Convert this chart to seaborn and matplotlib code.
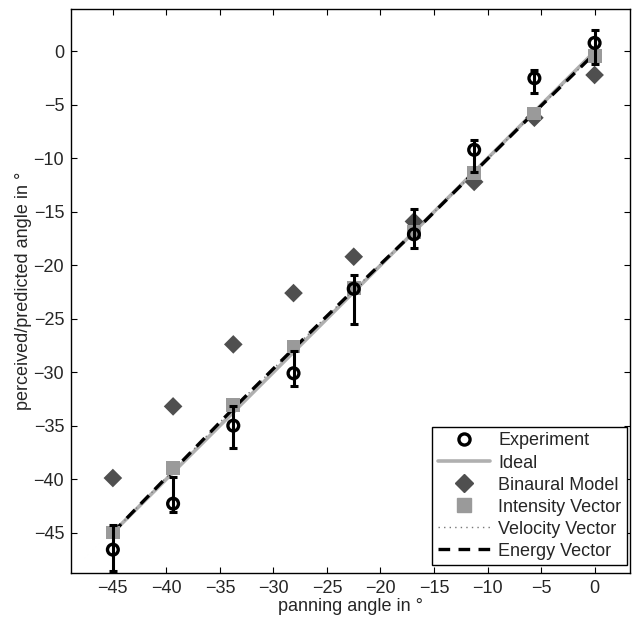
#!/usr/bin/env python3
import numpy as np
import pandas as pd
import seaborn as sns
import matplotlib.pyplot as plt
from matplotlib.lines import Line2D

# === Data ===
panning = [-45.0, -39.375, -33.75, -28.125, -22.5, -16.875, -11.25, -5.625, 0.0]
experiment = [-46.6, -42.3, -35.0, -30.1, -22.2, -17.1, -9.2, -2.5, 0.8]
exp_upper = [-44.3, -39.8, -33.2, -28.0, -20.9, -14.7, -8.25, -1.7, 2.0]
exp_lower = [-48.6, -43.1, -37.1, -31.3, -25.5, -18.4, -11.3, -3.9, -1.2]
ideal = [-45.0, -39.375, -33.75, -28.125, -22.5, -16.875, -11.25, -5.625, 0.0]
binaural = [-39.9, -33.2, -27.4, -22.6, -19.2, -15.9, -12.2, -6.2, -2.2]
intensity = [-45.0, -39.0, -33.1, -27.6, -22.1, -16.9, -11.4, -5.8, -0.4]
velocity = [-45.0, -39.2, -33.4, -27.8, -22.3, -16.9, -11.3, -5.7, -0.2]
energy = [-45.0, -39.2, -33.4, -27.8, -22.3, -16.9, -11.3, -5.7, -0.2]

df = pd.DataFrame({
    "panning": panning, "experiment": experiment, "ideal": ideal,
    "binaural": binaural, "intensity": intensity,
    "velocity": velocity, "energy": energy,
})

sns.set_theme(style="ticks")
plt.rcParams["font.family"] = ["Liberation Sans", "DejaVu Sans"]
plt.rcParams["xtick.direction"] = "in"
plt.rcParams["ytick.direction"] = "in"

FS = 13

fig = plt.figure(figsize=(6.35, 6.23), dpi=100)
ax = fig.add_axes([0.112, 0.080, 0.880, 0.906])

# --- lines ---
sns.lineplot(data=df, x="panning", y="ideal", ax=ax, color="#b0b0b0",
             linewidth=2.6, zorder=2)
sns.lineplot(data=df, x="panning", y="velocity", ax=ax, color="#777777",
             linewidth=1.0, linestyle=(0, (1, 3)), zorder=3)
sns.lineplot(data=df, x="panning", y="energy", ax=ax, color="black",
             linewidth=2.4, linestyle=(0, (3.5, 2.5)), zorder=3)

# --- markers ---
sns.scatterplot(data=df, x="panning", y="binaural", ax=ax, marker="D",
                color="#4f4f4f", s=90, edgecolor="none", zorder=4)
sns.scatterplot(data=df, x="panning", y="intensity", ax=ax, marker="s",
                color="#9a9a9a", s=100, edgecolor="none", zorder=5)

# --- experiment with asymmetric error bars ---
yerr = np.array([
    np.array(experiment) - np.array(exp_lower),
    np.array(exp_upper) - np.array(experiment),
])
sns.scatterplot(data=df, x="panning", y="experiment", ax=ax, marker="o",
                facecolor="none", edgecolor="black", linewidth=2.4, s=60,
                zorder=6)
ax.errorbar(panning, experiment, yerr=yerr, fmt="none", ecolor="black",
            elinewidth=2.2, capsize=3.2, capthick=2.2, zorder=7)

# --- axes ---
ax.set_xlim(-48.9, 3.3)
ax.set_ylim(-48.8, 4.0)
ax.set_xticks([-45, -40, -35, -30, -25, -20, -15, -10, -5, 0])
ax.set_yticks([-45, -40, -35, -30, -25, -20, -15, -10, -5, 0])
ax.tick_params(top=True, right=True, labelsize=FS, length=4, width=0.8,
               color="black", pad=5)
for sp in ax.spines.values():
    sp.set_visible(True)
    sp.set_color("black")
    sp.set_linewidth(1.0)
ax.set_xlabel("panning angle in °", fontsize=FS, labelpad=1)
ax.set_ylabel("perceived/predicted angle in °", fontsize=FS, labelpad=1)

# --- legend ---
handles = [
    Line2D([], [], marker="o", linestyle="none", markerfacecolor="none",
           markeredgecolor="black", markeredgewidth=2.4, markersize=8),
    Line2D([], [], color="#b0b0b0", linewidth=2.6),
    Line2D([], [], marker="D", linestyle="none", color="#4f4f4f",
           markersize=9),
    Line2D([], [], marker="s", linestyle="none", color="#9a9a9a",
           markersize=10),
    Line2D([], [], color="#777777", linewidth=1.0, linestyle=(0, (1, 3))),
    Line2D([], [], color="black", linewidth=2.4, linestyle=(0, (3.5, 2.5))),
]
labels = ["Experiment", "Ideal", "Binaural Model", "Intensity Vector",
          "Velocity Vector", "Energy Vector"]
leg = ax.legend(handles, labels, loc="lower right", fontsize=FS,
                frameon=True, fancybox=False, framealpha=1,
                edgecolor="black", handlelength=2.9, handletextpad=0.45,
                labelspacing=0.28, borderpad=0.3, borderaxespad=0,
                bbox_to_anchor=(0.9946, 0.0142))
leg.get_frame().set_linewidth(1.0)

fig.savefig("out.png", dpi=100)
